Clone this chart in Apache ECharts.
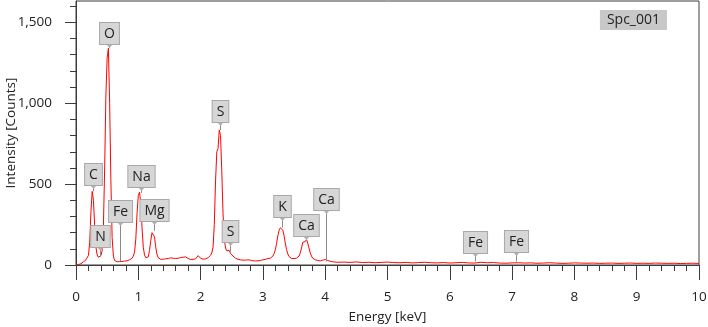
<!DOCTYPE html>
<html>
<head>
<meta charset="utf-8">
<script src="https://cdn.jsdelivr.net/npm/echarts@6/dist/echarts.min.js"></script>
<style>
html,body{margin:0;padding:0;background:#fff;}
#chart{width:708px;height:327px;}
</style>
</head>
<body>
<div id="chart"></div>
<script>
// ---------- DATA ----------
const seriesName = 'Spc_001';
// counts sampled every 0.02 keV from 0.00 to 4.20 keV
const lowStartKeV = 0, lowStepKeV = 0.02;
const lowCounts = [
  0, 2, 3, 5, 8, 14, 20, 26, 32, 40,
  60, 140, 330, 455, 400, 240, 110, 62, 48, 52,
  58, 90, 240, 600, 1050, 1280, 1340, 1000, 520, 170,
  55, 28, 22, 20, 23, 21, 24, 22, 26, 24,
  28, 26, 30, 32, 38, 42, 55, 80, 160, 320,
  430, 450, 380, 230, 110, 62, 45, 38, 50, 90,
  150, 200, 212, 175, 110, 65, 45, 38, 35, 40,
  36, 42, 38, 45, 40, 48, 44, 38, 42, 36,
  40, 45, 42, 50, 46, 52, 48, 55, 50, 44,
  40, 36, 34, 38, 35, 40, 38, 45, 58, 50,
  42, 38, 36, 40, 38, 42, 45, 52, 60, 75,
  110, 250, 520, 700, 720, 835, 800, 580, 320, 160,
  105, 88, 80, 90, 72, 68, 55, 50, 42, 38,
  35, 30, 32, 28, 30, 27, 30, 28, 32, 35,
  30, 28, 26, 28, 25, 28, 26, 30, 28, 30,
  32, 34, 35, 38, 40, 45, 42, 48, 55, 70,
  95, 135, 180, 215, 230, 232, 215, 180, 135, 95,
  68, 52, 45, 40, 38, 40, 38, 42, 45, 55,
  75, 105, 140, 150, 145, 158, 135, 105, 75, 55,
  42, 36, 32, 30, 28, 26, 25, 27, 30, 32,
  34, 31, 28, 25, 23, 22, 20, 21, 18, 19,
  17
];
// counts sampled every 0.1 keV from 4.3 to 10.0 keV
const highStartKeV = 4.3, highStepKeV = 0.1;
const highCounts = [
  18, 16, 19, 15, 17, 14, 16, 18, 15, 14,
  16, 13, 15, 17, 14, 13, 15, 12, 14, 16,
  13, 12, 17, 14, 15, 12, 11, 13, 14, 12,
  13, 11, 12, 14, 12, 10, 11, 13, 12, 11,
  12, 10, 11, 12, 10, 11, 12, 10, 11, 10,
  12, 11, 10, 11, 9, 10, 11, 10
];
// element line markers
const labelNames    = ['C', 'O', 'N', 'Fe', 'Na', 'Mg', 'S', 'S', 'K', 'Ca', 'Ca', 'Fe', 'Fe'];
const labelEnergies = [0.277, 0.525, 0.392, 0.705, 1.041, 1.254, 2.307, 2.464, 3.313, 3.691, 4.012, 6.400, 7.058];
const labelCounts   = [455, 1340, 52, 22, 446, 212, 834, 83, 231, 151, 22, 22, 22];
const xTicks = [0, 1, 2, 3, 4, 5, 6, 7, 8, 9, 10];
const yTicks = [0, 500, 1000, 1500];

// ---------- LAYOUT / STYLE ----------
const leaderPx = [5, 3, 9, 38, 5, 9, 7, 9, 10, 4, 50, 7, 8];
const FONT = '"Open Sans", "Noto Sans", sans-serif';

const spectrum = lowCounts.map((c, i) => [+(lowStartKeV + i * lowStepKeV).toFixed(2), c])
  .concat(highCounts.map((c, i) => [+(highStartKeV + i * highStepKeV).toFixed(2), c]));
const labelData = labelEnergies.map((e, i) => [e, labelCounts[i]]);

const yMinor = [];
for (let v = 100; v < 1632; v += 100) if (v % 500 !== 0) yMinor.push(v);

const chart = echarts.init(document.getElementById('chart'), null, {renderer: 'canvas'});
chart.setOption({
  animation: false,
  backgroundColor: '#ffffff',
  textStyle: {fontFamily: FONT},
  grid: {left: 76, right: 9, top: 1, bottom: 62, show: true, borderColor: '#3c3c3c', borderWidth: 1,
    containLabel: false, outerBoundsMode: 'none'},
  legend: {
    data: [{name: seriesName, icon: 'none'}],
    right: 41, top: 10,
    itemWidth: 0, itemHeight: 0,
    backgroundColor: '#c8c8c8',
    padding: [3, 7, 3, 2],
    textStyle: {fontSize: 14, color: '#222', fontFamily: FONT},
    selectedMode: false
  },
  xAxis: {
    type: 'value', min: 0, max: 10, interval: 1,
    name: 'Energy [keV]', nameLocation: 'middle', nameGap: 45,
    nameTextStyle: {fontSize: 13.5, color: '#222', fontFamily: FONT},
    axisLine: {show: true, lineStyle: {color: '#3c3c3c', width: 1}},
    axisTick: {show: true, length: 15, lineStyle: {color: '#3c3c3c'}, customValues: xTicks},
    minorTick: {show: true, splitNumber: 5, length: 6, lineStyle: {color: '#3c3c3c'}},
    axisLabel: {fontSize: 13.5, color: '#222', margin: 25, fontFamily: FONT, customValues: xTicks},
    splitLine: {show: false}, minorSplitLine: {show: false}
  },
  yAxis: [{
    type: 'value', min: 0, max: 1632, interval: 500,
    name: 'Intensity [Counts]', nameLocation: 'middle', nameGap: 58, nameMoveOverlap: false,
    nameTextStyle: {fontSize: 13.5, color: '#222', fontFamily: FONT},
    axisLine: {show: true, lineStyle: {color: '#3c3c3c', width: 1}},
    axisTick: {show: true, length: 11, lineStyle: {color: '#3c3c3c'}, customValues: yTicks},
    axisLabel: {fontSize: 13.5, color: '#222', margin: 24, fontFamily: FONT, customValues: yTicks,
      formatter: v => v.toLocaleString('en-US')},
    splitLine: {show: false}
  }, {
    type: 'value', min: 0, max: 1632, position: 'left', offset: 0,
    axisLine: {show: false},
    axisTick: {show: true, length: 6, inside: false, lineStyle: {color: '#3c3c3c'}, customValues: yMinor},
    axisLabel: {show: false},
    splitLine: {show: false}
  }],
  series: [{
    name: seriesName,
    type: 'line',
    data: spectrum,
    showSymbol: false,
    symbol: 'none',
    lineStyle: {color: '#ff0000', width: 1},
    itemStyle: {color: '#ff0000'},
    z: 2
  }, {
    name: 'labels',
    type: 'custom',
    data: labelData,
    encode: {x: 0, y: 1},
    z: 5,
    silent: true,
    renderItem: (params, api) => {
      const i = params.dataIndex;
      const p = api.coord([api.value(0), api.value(1)]);
      const x = Math.round(p[0]) + 0.5;
      const bottom = Math.round(p[1] - leaderPx[i]);
      return {
        type: 'group',
        children: [
          {type: 'line', shape: {x1: x, y1: p[1], x2: x, y2: bottom}, style: {stroke: '#8a8a8a', lineWidth: 1}},
          {type: 'polygon', shape: {points: [[x - 3.5, bottom - 1], [x + 3.5, bottom - 1], [x, bottom + 3]]},
            style: {fill: '#b0b0b0'}},
          {type: 'text', x: x, y: bottom - 1,
            style: {text: labelNames[i], align: 'center', verticalAlign: 'bottom',
              font: '14px ' + FONT, fill: '#222',
              backgroundColor: '#d6d6d6', borderColor: '#a8a8a8', borderWidth: 1,
              padding: [4, 4, 3, 4]}}
        ]
      };
    }
  }]
});
</script>
</body>
</html>
